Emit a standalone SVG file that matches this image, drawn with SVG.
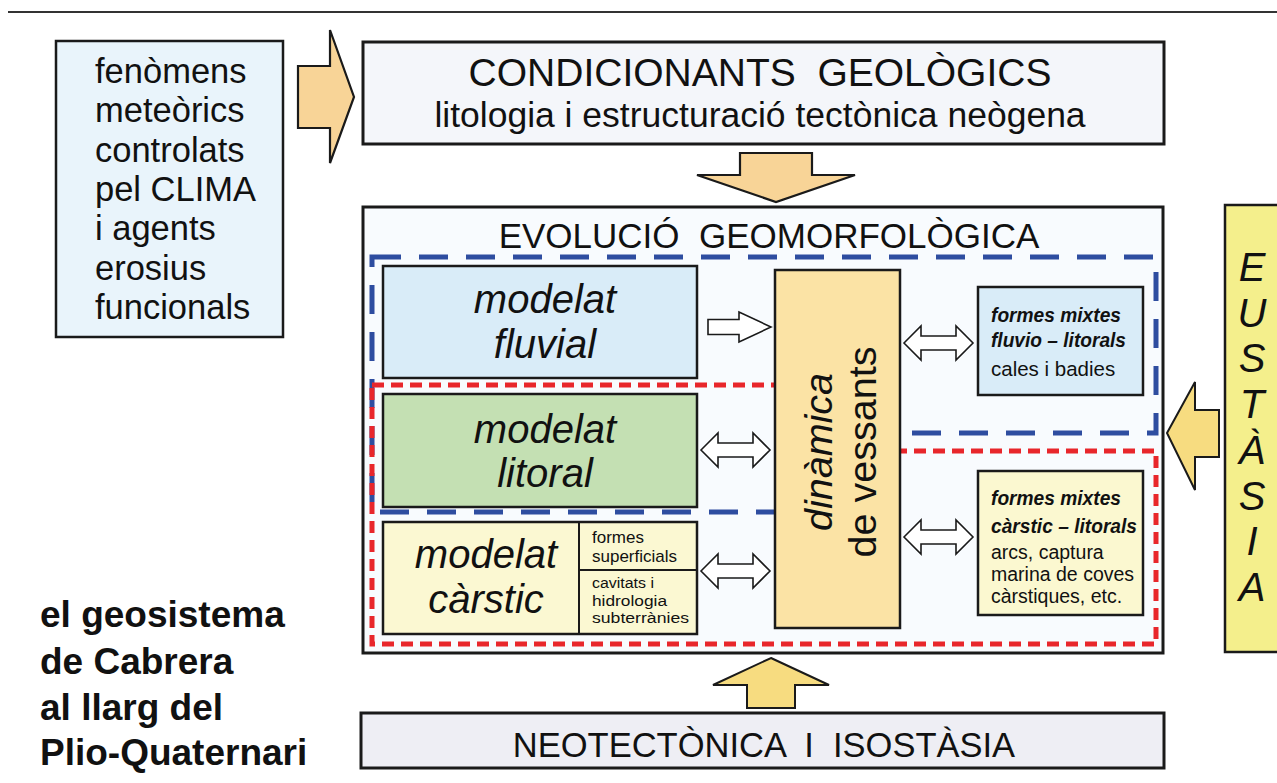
<svg xmlns="http://www.w3.org/2000/svg" width="1277" height="783" viewBox="0 0 1277 783">
<defs>
<style>
text{font-family:"Liberation Sans",Arial,Helvetica,sans-serif;fill:#111}
.box{stroke:#1a1a1a;stroke-width:2.5}
.big{stroke:#1a1a1a;stroke-width:3}
.it{font-style:italic}
.bi{font-style:italic;font-weight:bold}
.mid{text-anchor:middle}
.arr{fill:#fff;stroke:#1a1a1a;stroke-width:1.6;stroke-linejoin:miter}
.oarr{fill:#f8d497;stroke:#1a1a1a;stroke-width:2.2}
.yarr{fill:#f7dc80;stroke:#1a1a1a;stroke-width:2}
</style>
<path id="dbl" d="M0,0 L17,-17 L17,-7 L52,-7 L52,-17 L69,0 L52,17 L52,7 L17,7 L17,17 Z"/>
</defs>
<rect width="1277" height="783" fill="#ffffff"/>
<line x1="8" y1="12" x2="1277" y2="12" stroke="#333" stroke-width="2"/>

<g id="clima">
<rect x="56" y="41" width="227" height="296" fill="#e9f4fb" class="box"/>
<text x="95" y="83" font-size="34.5">fenòmens</text>
<text x="95" y="122" font-size="34.5">meteòrics</text>
<text x="95" y="162" font-size="34.5">controlats</text>
<text x="95" y="201" font-size="34.5">pel CLIMA</text>
<text x="95" y="240" font-size="34.5">i agents</text>
<text x="95" y="280" font-size="34.5">erosius</text>
<text x="95" y="319" font-size="34.5">funcionals</text>
</g>

<g id="condicionants">
<rect x="363" y="42" width="801" height="102" fill="#f4f6fa" class="big"/>
<text x="760" y="86" font-size="39" class="mid" xml:space="preserve">CONDICIONANTS  GEOLÒGICS</text>
<text x="760" y="127" font-size="35.5" class="mid">litologia i estructuració tectònica neògena</text>
</g>

<g id="evolucio">
<rect x="363" y="207" width="800" height="446" fill="#f8fbfe" class="big"/>
<text x="769" y="248" font-size="35" class="mid" xml:space="preserve">EVOLUCIÓ  GEOMORFOLÒGICA</text>
</g>

<g id="fluvial">
<rect x="383" y="266" width="314" height="112" fill="#d9ecf8" class="box"/>
<text x="545" y="313" font-size="40" class="it mid">modelat</text>
<text x="545" y="358" font-size="40" class="it mid">fluvial</text>
</g>

<g id="litoral">
<rect x="383" y="394" width="314" height="113" fill="#c4e0b3" class="box"/>
<text x="545" y="443" font-size="40" class="it mid">modelat</text>
<text x="545" y="487" font-size="40" class="it mid">litoral</text>
</g>

<g id="carstic">
<rect x="383" y="522" width="314" height="112" fill="#fbf8d2" class="box"/>
<line x1="579" y1="522" x2="579" y2="634" stroke="#1a1a1a" stroke-width="2"/>
<line x1="579" y1="570" x2="697" y2="570" stroke="#1a1a1a" stroke-width="2"/>
<text x="486" y="568" font-size="40" class="it mid">modelat</text>
<text x="486" y="613" font-size="40" class="it mid">càrstic</text>
<text x="592" y="543" font-size="17">formes</text>
<text x="592" y="562" font-size="17">superficials</text>
<text x="592" y="588" font-size="15.5" textLength="62" lengthAdjust="spacingAndGlyphs">cavitats i</text>
<text x="592" y="605.5" font-size="15.5" textLength="75" lengthAdjust="spacingAndGlyphs">hidrologia</text>
<text x="592" y="623" font-size="15.5" textLength="97" lengthAdjust="spacingAndGlyphs">subterrànies</text>
</g>

<g id="groups">
<polygon points="372,257 1156,257 1156,433 838,433 838,512 372,512" fill="none" stroke="#2e4da0" stroke-width="5" stroke-dasharray="29 18"/>
<polygon points="372,385 838,385 838,451 1156,451 1156,644 372,644" fill="none" stroke="#e8262b" stroke-width="5" stroke-dasharray="12 7"/>
</g>

<g id="dinamica">
<rect x="775" y="270" width="125" height="358" fill="#fbe3a5" class="box"/>
<text transform="translate(832,452) rotate(-90)" font-size="39.5" class="it mid">dinàmica</text>
<text transform="translate(876,452) rotate(-90)" font-size="39.5" class="mid">de vessants</text>
</g>

<g id="mixtes-fluvio">
<rect x="978" y="287" width="165" height="108" fill="#d9ecf8" class="box"/>
<text x="991" y="322" font-size="21" class="bi" textLength="130" lengthAdjust="spacingAndGlyphs">formes mixtes</text>
<text x="991" y="347" font-size="21" class="bi" textLength="135" lengthAdjust="spacingAndGlyphs">fluvio – litorals</text>
<text x="991" y="376" font-size="20.5">cales i badies</text>
</g>

<g id="mixtes-carstic">
<rect x="978" y="471" width="165" height="144" fill="#fbf8d0" class="box"/>
<text x="991" y="505" font-size="21" class="bi" textLength="130" lengthAdjust="spacingAndGlyphs">formes mixtes</text>
<text x="991" y="533" font-size="21" class="bi" textLength="146" lengthAdjust="spacingAndGlyphs">càrstic – litorals</text>
<text x="991" y="559" font-size="19.5">arcs, captura</text>
<text x="991" y="581" font-size="19.5">marina de coves</text>
<text x="991" y="603" font-size="19.5">càrstiques, etc.</text>
</g>

<g id="eustasia">
<rect x="1225" y="205" width="70" height="447" fill="#f4ef8c" class="box"/>
<text x="1252" y="281" font-size="40" class="it mid">E</text>
<text x="1252" y="327" font-size="40" class="it mid">U</text>
<text x="1252" y="372" font-size="40" class="it mid">S</text>
<text x="1252" y="418" font-size="40" class="it mid">T</text>
<text x="1252" y="464" font-size="40" class="it mid">À</text>
<text x="1252" y="510" font-size="40" class="it mid">S</text>
<text x="1252" y="555" font-size="40" class="it mid">I</text>
<text x="1252" y="601" font-size="40" class="it mid">A</text>
</g>

<g id="neotectonica">
<rect x="361" y="713" width="803" height="55" fill="#eeeef4" class="big"/>
<text x="764" y="757" font-size="34.5" class="mid" xml:space="preserve">NEOTECTÒNICA  I  ISOSTÀSIA</text>
</g>

<g id="titol">
<text x="40" y="627" font-size="37" font-weight="bold">el geosistema</text>
<text x="40" y="674" font-size="37" font-weight="bold">de Cabrera</text>
<text x="40" y="720" font-size="37" font-weight="bold">al llarg del</text>
<text x="40" y="765" font-size="37" font-weight="bold">Plio-Quaternari</text>
</g>

<g id="connectors">
<polygon class="oarr" points="298,66 330,66 330,30 354,97 330,163 330,128 298,128"/>
<polygon class="oarr" points="740,153 812,153 812,175 855,175 776,202 697,175 740,175"/>
<polygon class="yarr" points="771,658 829,685 795,685 795,708 747,708 747,685 713,685"/>
<polygon class="yarr" points="1167,433 1195,382 1195,410 1219,410 1219,457 1195,457 1195,490"/>
<polygon class="arr" points="708,319.5 739,319.5 739,312 771,327 739,342 739,334.5 708,334.5"/>
<use href="#dbl" class="arr" transform="translate(701,450)"/>
<use href="#dbl" class="arr" transform="translate(701,571)"/>
<use href="#dbl" class="arr" transform="translate(904,343)"/>
<use href="#dbl" class="arr" transform="translate(904,537)"/>
</g>
</svg>
